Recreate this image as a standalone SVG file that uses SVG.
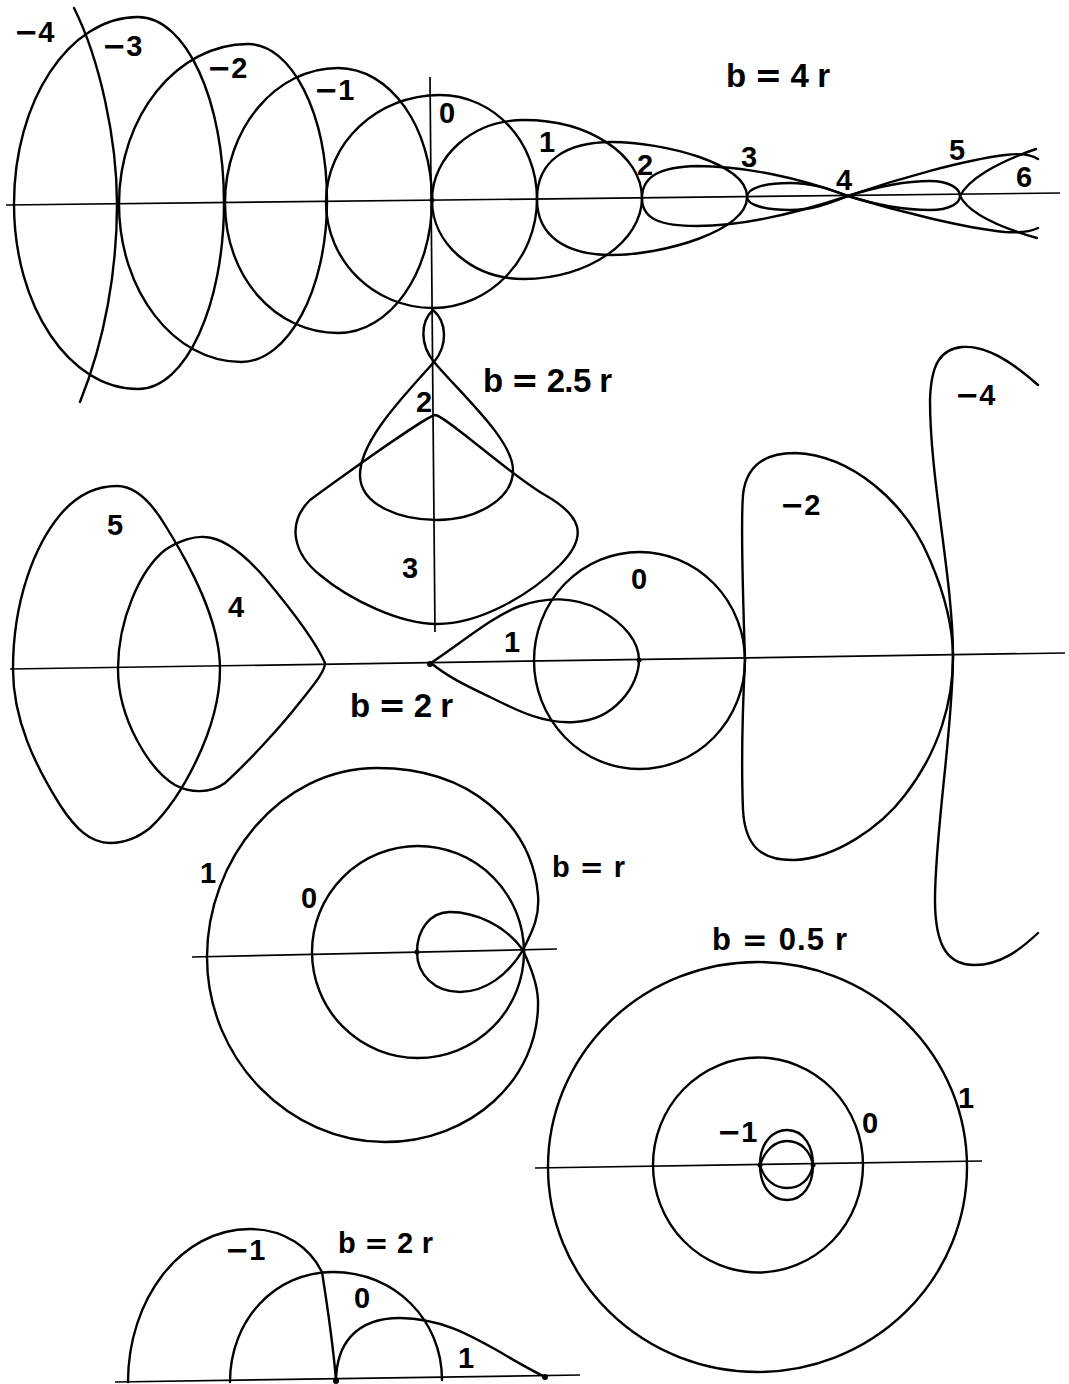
<svg xmlns="http://www.w3.org/2000/svg" width="1069" height="1384" viewBox="0 0 1069 1384">
<style>
.c{fill:none;stroke:#000;stroke-width:2.4;stroke-linejoin:round;stroke-linecap:round}
.ax{fill:none;stroke:#000;stroke-width:1.7}
.t{font-family:"Liberation Sans",Arial,sans-serif;font-weight:bold;font-size:29px;fill:#000}
.bl{font-size:33px}
.m{font-family:"DejaVu Sans",sans-serif;font-weight:bold}
.d{fill:#000}
</style>
<rect width="1069" height="1384" fill="#fff"/>

<g id="fig-b4">
  <path class="ax" d="M6,205 L1060,193"/>
  <path class="ax" d="M430,77 L435,632"/>
  <path class="c" d="M74,8 C100,60 117,140 117,204 C117,270 105,340 80,402"/>
  <path class="c" d="M14,204 C14,101 69,17 138,17 C186,17 224,100 224,203 C224,305 186,389 138,389 C69,389 14,306 14,204 Z"/>
  <path class="c" d="M119,204 C119,116 177,44 248,44 C292,44 327,114 327,201 C327,290 288,362 241,362 C174,362 119,291 119,204 Z"/>
  <path class="c" d="M225,203 C225,128 276,68 338,68 C390,68 432,127 432,200 C432,273 390,333 338,333 C276,333 225,278 225,203 Z"/>
  <path class="c" d="M326,202 C326,143 377,95 440,95 C494,95 537,142 537,199 C537,259 490,308 433,308 C374,308 326,261 326,202 Z"/>
  <path class="c" d="M432,200 C432,156 473,120 524,120 C589,120 642,155 642,198 C642,241 589,279 524,279 C473,279 432,244 432,200 Z"/>
  <path class="c" d="M537,199 C537,160 567,142 612,142 C662,142 748,163 747,197 C748,231 662,255 612,255 C567,255 537,237 537,199 Z"/>
  <path class="c" d="M642,198 C642,175 662,167 697,166 C745,166 800,178 848,196 C800,212 745,226 697,226 C662,226 642,220 642,198 Z"/>
  <path class="c" d="M747,197 C747,188 765,183 790,183 C815,183 832,190 848,196 C832,202 815,210 790,210 C765,210 747,205 747,197 Z"/>
  <path class="c" d="M848,196 C870,189 900,181 930,181 C950,181 960,189 960,196 C960,203 950,210 930,210 C900,210 870,203 848,196 Z"/>
  <path class="c" d="M848,196 C900,178 965,160 1005,155 C1020,153 1030,154 1038,159"/>
  <path class="c" d="M848,196 C900,212 965,228 1005,232 C1020,233 1030,232 1038,228"/>
  <path class="c" d="M1036,149 C995,163 968,180 960,196 C968,212 995,226 1037,238"/>
  <circle class="d" cx="432" cy="200" r="2.5"/>
  <text class="t" x="14" y="42"><tspan class="m">−</tspan>4</text>
  <text class="t" x="102" y="56"><tspan class="m">−</tspan>3</text>
  <text class="t" x="207" y="78"><tspan class="m">−</tspan>2</text>
  <text class="t" x="314" y="100"><tspan class="m">−</tspan>1</text>
  <text class="t" x="439" y="123">0</text>
  <text class="t" x="539" y="152">1</text>
  <text class="t" x="637" y="175">2</text>
  <text class="t" x="741" y="167">3</text>
  <text class="t" x="836" y="190">4</text>
  <text class="t" x="949" y="160">5</text>
  <text class="t" x="1016" y="187">6</text>
  <text class="t bl" x="726" y="87" textLength="104" lengthAdjust="spacing">b <tspan class="m">=</tspan> 4 r</text>
</g>

<g id="fig-b25">
  <path class="c" d="M434,362 C420,345 420,322 433,310 C447,322 448,345 434,362"/>
  <path class="c" d="M434,362 C405,395 360,440 360,475 C360,505 400,520 437,520 C475,520 513,500 513,470 C513,440 462,395 434,362 Z"/>
  <path class="c" d="M435,415 C428,416 365,460 310,500 C285,525 295,555 320,575 C350,600 400,624 437,624 C480,624 530,595 560,565 C590,535 580,515 545,495 C510,475 445,415 435,415 Z"/>
  <text class="t" x="416" y="412">2</text>
  <text class="t" x="402" y="578">3</text>
  <text class="t bl" x="483" y="392" textLength="129" lengthAdjust="spacing">b <tspan class="m">=</tspan> 2.5 r</text>
</g>

<g id="fig-b2">
  <path class="ax" d="M10,669 L1065,653"/>
  <path class="c" d="M13,669 C13,600 35,545 60,515 C75,497 95,486 117,486 C135,486 150,500 165,525 C190,565 220,620 220,669 C220,730 180,800 150,828 C135,840 122,843 110,843 C90,843 75,828 60,805 C35,765 13,720 13,669 Z"/>
  <path class="c" d="M118,669 C118,620 140,570 165,550 C180,540 195,536 205,537 C225,538 245,555 265,578 C290,608 315,640 325,663 C325,670 318,680 300,702 C280,728 245,765 225,783 C210,794 190,793 175,785 C150,770 118,720 118,669 Z"/>
  <path class="c" d="M431,663 C465,640 495,615 520,606 C545,597 575,596 600,610 C625,624 639,642 639,660 C639,685 615,720 575,722 C545,724 520,712 490,697 C465,685 448,677 431,663 Z"/>
  <ellipse class="c" cx="639.5" cy="660.5" rx="105.5" ry="108.5"/>
  <path class="c" d="M745,659 C743,600 741,520 743,495 C746,465 765,453 795,453 C850,455 905,500 930,560 C945,595 953,630 953,657 C953,700 940,750 905,795 C880,828 835,858 795,860 C760,861 745,845 743,810 C741,760 743,700 745,659 Z"/>
  <path class="c" d="M1038,385 C1010,360 985,345 962,347 C940,349 931,365 930,400 C930,480 953,580 953,655 C953,730 935,830 935,900 C935,950 950,965 975,965 C1000,965 1020,950 1038,933"/>
  <circle class="d" cx="430" cy="664" r="3"/>
  <circle class="d" cx="639" cy="660" r="2.5"/>
  <text class="t" x="107" y="535">5</text>
  <text class="t" x="228" y="617">4</text>
  <text class="t" x="504" y="652">1</text>
  <text class="t" x="631" y="589">0</text>
  <text class="t" x="780" y="515"><tspan class="m">−</tspan>2</text>
  <text class="t" x="955" y="405"><tspan class="m">−</tspan>4</text>
  <text class="t bl" x="350" y="717" textLength="103" lengthAdjust="spacing">b <tspan class="m">=</tspan> 2 r</text>
</g>

<g id="fig-b1">
  <path class="ax" d="M192,957 L557,949"/>
  <path class="c" d="M523,950 C530,935 540,920 538,895 C535,860 520,830 490,805 C460,780 420,768 377,768 C280,768 207,860 207,957 C207,1060 290,1142 385,1142 C470,1142 540,1080 538,1000 C537,980 528,962 523,950 Z"/>
  <path class="c" d="M523,950 C505,925 475,912 450,912 C430,912 417,930 417,952 C417,975 435,992 460,992 C485,992 508,975 523,950 Z"/>
  <circle class="c" cx="418" cy="952" r="106"/>
  <circle class="d" cx="417" cy="952" r="2.5"/>
  <circle class="d" cx="523" cy="950" r="2.5"/>
  <text class="t" x="200" y="883">1</text>
  <text class="t" x="301" y="908">0</text>
  <text class="t" x="552" y="877" font-size="29" textLength="73" lengthAdjust="spacing">b <tspan class="m">=</tspan> r</text>
</g>

<g id="fig-b05">
  <path class="ax" d="M535,1168 L982,1161"/>
  <ellipse class="c" cx="757.5" cy="1167" rx="209.5" ry="205"/>
  <ellipse class="c" cx="758" cy="1165" rx="105" ry="107.5"/>
  <path class="c" d="M760,1165 C760,1140 775,1130 787,1130 C805,1130 813,1148 813,1165 C813,1185 803,1200 787,1200 C770,1200 760,1185 760,1165 Z"/>
  <path class="c" d="M760,1165 C765,1150 775,1141 787,1141 C800,1141 810,1150 813,1165 C810,1180 800,1188 787,1188 C775,1188 764,1180 760,1165 Z"/>
  <circle class="d" cx="760" cy="1165" r="2.5"/>
  <circle class="d" cx="813" cy="1165" r="2.5"/>
  <text class="t" x="717" y="1142"><tspan class="m">−</tspan>1</text>
  <text class="t" x="862" y="1133">0</text>
  <text class="t" x="958" y="1108">1</text>
  <text class="t" x="712" y="950" style="font-size:31px" textLength="135" lengthAdjust="spacing">b <tspan class="m">=</tspan> 0.5 r</text>
</g>

<g id="fig-b2-bottom">
  <path class="ax" d="M115,1382 L580,1375"/>
  <path class="c" d="M128,1382 C128,1300 180,1229 250,1229 C285,1229 310,1248 322,1272 C328,1310 333,1345 336,1380"/>
  <path class="c" d="M230,1382 C230,1320 275,1272 333,1272 C395,1272 442,1320 442,1380"/>
  <path class="c" d="M336,1382 C336,1345 355,1318 400,1318 C440,1318 470,1335 500,1352 C520,1364 535,1372 545,1377"/>
  <circle class="d" cx="336" cy="1381" r="3"/>
  <circle class="d" cx="545" cy="1377" r="3"/>
  <text class="t" x="225" y="1260"><tspan class="m">−</tspan>1</text>
  <text class="t" x="354" y="1308">0</text>
  <text class="t" x="458" y="1368">1</text>
  <text class="t" x="338" y="1253" style="font-size:29px" textLength="95" lengthAdjust="spacing">b <tspan class="m">=</tspan> 2 r</text>
</g>
</svg>
